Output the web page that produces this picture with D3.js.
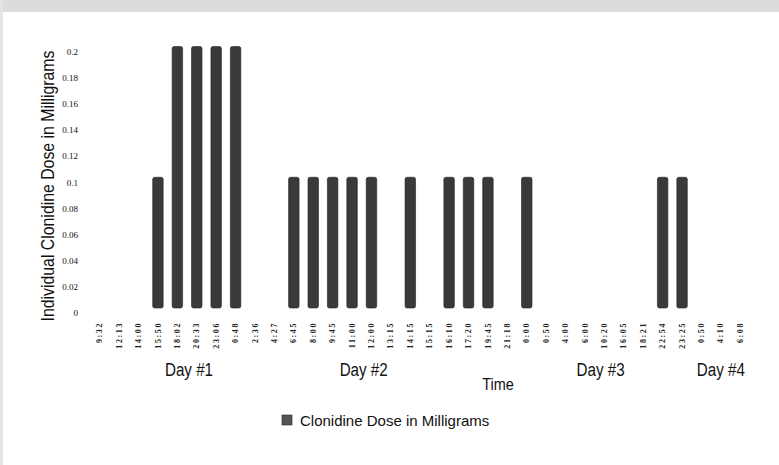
<!DOCTYPE html>
<html>
<head>
<meta charset="utf-8">
<script src="https://cdn.jsdelivr.net/npm/d3@7"></script>
<style>
  body { margin: 0; background: #fff; }
  svg { display: block; }
</style>
</head>
<body>
<svg id="chart" width="779" height="465"></svg>
<script>
// dose times (category axis) and dose per time
const times = ['9:32', '12:13', '14:00', '15:50', '18:02', '20:33', '23:06', '0:48', '2:36', '4:27',
  '6:45', '8:00', '9:45', '11:00', '12:00', '13:15', '14:15', '15:15', '16:10', '17:20',
  '19:45', '21:18', '0:00', '0:50', '4:00', '6:00', '10:20', '16:05', '18:21', '22:54',
  '23:25', '0:50', '4:10', '6:08'];
const doses = [0, 0, 0, 0.1, 0.2, 0.2, 0.2, 0.2, 0, 0,
  0.1, 0.1, 0.1, 0.1, 0.1, 0, 0.1, 0, 0.1, 0.1,
  0.1, 0, 0.1, 0, 0, 0, 0, 0, 0, 0.1,
  0.1, 0, 0, 0];
const yTicks = [0, 0.02, 0.04, 0.06, 0.08, 0.1, 0.12, 0.14, 0.16, 0.18, 0.2];
// day captions sit under these category positions
const dayLabels = ['Day #1', 'Day #2', 'Day #3', 'Day #4'];
const dayAt = [4.6, 13.6, 25.8, 32];

const W = 779, H = 465;
const svg = d3.select('#chart');
const SANS = '"Liberation Sans", Arial, sans-serif';

// scan texture strip along the top / left edge
svg.append('rect').attr('x', 0).attr('y', 0).attr('width', W).attr('height', 12).attr('fill', '#dcdcdc');
svg.append('rect').attr('x', 0).attr('y', 0).attr('width', 3).attr('height', H).attr('fill', '#e4e4e4');

const x = d3.scaleBand()
  .domain(d3.range(times.length))
  .range([90, 750])
  .paddingInner(0.46).paddingOuter(0.23);

const y = d3.scaleLinear().domain([0, 0.2]).range([308, 46.5]);

// y axis: labels only, printed a little below their values as in the scan
const yAx = svg.append('g')
  .attr('transform', 'translate(78,5)')
  .call(d3.axisLeft(y).tickValues(yTicks).tickSize(0).tickPadding(0)
    .tickFormat(d => d === 0 ? '0' : String(+d.toFixed(2))));
yAx.select('.domain').remove();
yAx.selectAll('text')
  .attr('font-family', '"Liberation Serif", serif')
  .attr('font-size', 9)
  .attr('fill', '#111');

// bars
svg.append('g').selectAll('rect')
  .data(doses)
  .join('rect')
  .attr('x', (d, i) => x(i))
  .attr('y', d => y(d))
  .attr('width', x.bandwidth())
  .attr('height', d => y(0) - y(d))
  .attr('rx', 2)
  .attr('fill', '#3a3a3a')
  .attr('stroke', '#222')
  .attr('stroke-width', 0.6)
  .attr('opacity', d => d > 0 ? 1 : 0);

// x axis: rotated time labels
const xAx = svg.append('g')
  .attr('transform', `translate(0,${y(0) + 14})`)
  .call(d3.axisBottom(x).tickSize(0).tickFormat(i => times[i]));
xAx.select('.domain').remove();
xAx.selectAll('text')
  .attr('font-family', '"Liberation Serif", serif')
  .attr('font-size', 8)
  .attr('font-weight', 'bold')
  .attr('letter-spacing', 1.6)
  .attr('fill', '#222')
  .attr('transform', 'rotate(-90)')
  .attr('text-anchor', 'end')
  .attr('x', 0)
  .attr('y', 0)
  .attr('dy', '0.32em');

// day captions
svg.append('g').selectAll('text')
  .data(dayLabels)
  .join('text')
  .attr('transform', (d, i) => `translate(${x(0) + x.bandwidth() / 2 + dayAt[i] * x.step()},376) scale(0.8,1)`)
  .attr('text-anchor', 'middle')
  .attr('font-family', SANS)
  .attr('font-size', 19)
  .attr('fill', '#111')
  .text(d => d);

svg.append('text')
  .attr('transform', 'translate(498,390) scale(0.85,1)')
  .attr('text-anchor', 'middle')
  .attr('font-family', SANS)
  .attr('font-size', 17)
  .attr('fill', '#111')
  .text('Time');

svg.append('text')
  .attr('transform', 'translate(54,186) rotate(-90) scale(0.88,1)')
  .attr('text-anchor', 'middle')
  .attr('font-family', SANS)
  .attr('font-size', 18)
  .attr('fill', '#111')
  .text('Individual Clonidine Dose in Milligrams');

// legend
const lg = svg.append('g').attr('transform', 'translate(282,415)');
lg.append('rect').attr('width', 10).attr('height', 10).attr('fill', '#555').attr('stroke', '#222').attr('stroke-width', 0.6);
lg.append('text')
  .attr('x', 18).attr('y', 11)
  .attr('font-family', SANS)
  .attr('font-size', 15)
  .attr('fill', '#111')
  .text('Clonidine Dose in Milligrams');
</script>
</body>
</html>
